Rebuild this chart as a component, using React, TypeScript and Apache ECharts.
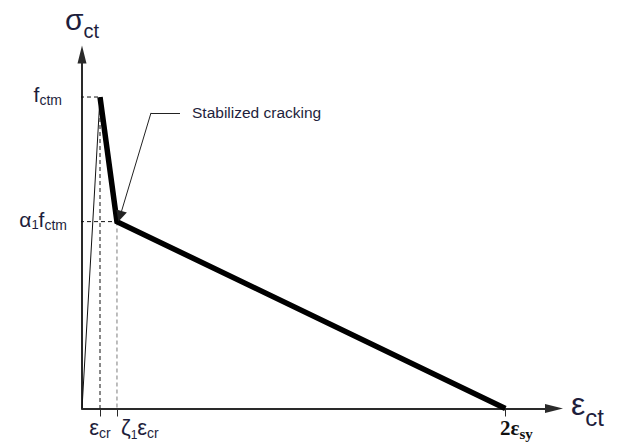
import React, { useEffect, useRef } from "react";
import * as echarts from "echarts";

// Strain positions (in units of the cracking strain εcr)
const epsCr = 1;
const zeta1EpsCr = 1.94;
const twoEpsSy = 23.5;
// Stress levels (in units of fctm)
const fctm = 1;
const alpha1Fctm = 0.6;

// Tension-stiffening diagram
const ascendingBranch: [number, number][] = [
  [0, 0],
  [epsCr, fctm],
];
const softeningBranch: [number, number][] = [
  [epsCr, fctm],
  [zeta1EpsCr, alpha1Fctm],
  [twoEpsSy, 0],
];

// Tick positions and labels (strain axis)
const strainTicks = [epsCr, zeta1EpsCr, twoEpsSy];
const centredStrainTicks = [epsCr, twoEpsSy];
const centredStrainLabels = ["{e|ε}{es|cr}", "{sp2|}{b|2ε}{bs|sy}"];
const leftStrainTicks = [zeta1EpsCr];
const leftStrainLabels = ["{sp1|}{e|ζ}{n|1}{e|ε}{es|cr}"];
// Tick positions and labels (stress axis)
const stressTicks = [fctm, alpha1Fctm];
const stressTickLabels = ["{f|f}{fs|ctm}{pad|}", "{f|α}{fn|1}{f|f}{fs|ctm}"];

// Guide lines start slightly left of the stress axis
const guideStart = -0.5;

// Leader for the "Stabilized cracking" note
const leaderShelf: [number, number][] = [
  [5.44, 0.949],
  [3.83, 0.949],
];
const leaderPointer: [number, number][] = [
  [3.83, 0.949],
  [2.11, 0.617],
];
const noteText = "Stabilized cracking";

const X_MAX = 26.2;
const Y_MAX = 1.1365;

const FONT = "'Liberation Sans', Arial, Helvetica, sans-serif";
const SERIF = "'Liberation Serif', 'Times New Roman', serif";
const INK = "#1e1e3c";
const AXIS = "#2a2a2a";

const pickLabel = (ticks: number[], labels: string[], v: number) => {
  const i = ticks.findIndex((t) => Math.abs(t - v) < 1e-6);
  return i >= 0 ? labels[i] : "";
};

// rich-text token: `h` is the token box height; with top alignment a taller
// box pushes the glyphs further down (used for subscripts)
const tok = (fontSize: number, h: number, extra: Record<string, unknown> = {}) => ({
  fontFamily: FONT,
  fontSize,
  color: INK,
  height: h,
  verticalAlign: "top",
  ...extra,
});

const strainRich = {
  e: tok(22, 24),
  es: tok(14, 35),
  n: tok(12, 39),
  sp1: { width: 4, height: 24 },
  sp2: { width: 22, height: 24 },
  b: tok(21, 24, { fontFamily: SERIF, fontWeight: "bold", color: "#111" }),
  bs: tok(15, 36, { fontFamily: SERIF, fontWeight: "bold", color: "#111" }),
};

export default function App() {
  const ref = useRef<HTMLDivElement>(null);

  useEffect(() => {
    if (!ref.current) return;
    const chart = echarts.init(ref.current, null, { renderer: "svg" });

    const dashed = (pts: [number, number][], color: string, width = 1) => ({
      type: "line",
      data: pts,
      symbol: "none",
      clip: false,
      silent: true,
      lineStyle: { color, width, type: [4, 3] },
      z: 1,
    });

    chart.setOption({
      animation: false,
      backgroundColor: "#ffffff",
      grid: { left: 82, right: 68, top: 54.5, bottom: 35.5 },
      xAxis: [
        {
          type: "value",
          position: "bottom",
          min: 0,
          max: X_MAX,
          splitLine: { show: false },
          axisLine: {
            onZero: false,
            symbol: ["none", "triangle"],
            symbolSize: [9, 18],
            lineStyle: { color: AXIS, width: 2 },
          },
          axisTick: {
            customValues: strainTicks,
            length: 8,
            lineStyle: { color: AXIS, width: 1 },
          },
          axisLabel: {
            customValues: centredStrainTicks,
            margin: 7,
            formatter: (v: number) => pickLabel(centredStrainTicks, centredStrainLabels, v),
            rich: strainRich,
          },
          name: "{m|ε}{s|ct}",
          nameLocation: "end",
          nameGap: 17,
          nameTextStyle: {
            padding: [17, 0, 0, 0],
            rich: {
              m: tok(32, 34),
              s: tok(24, 60),
            },
          },
        },
        {
          type: "value",
          position: "bottom",
          offset: 0,
          min: 0,
          max: X_MAX,
          splitLine: { show: false },
          axisLine: { show: false },
          axisTick: { show: false },
          axisLabel: {
            customValues: leftStrainTicks,
            margin: 7,
            align: "left",
            formatter: (v: number) => pickLabel(leftStrainTicks, leftStrainLabels, v),
            rich: strainRich,
          },
        },
      ],
      yAxis: {
        type: "value",
        min: 0,
        max: Y_MAX,
        splitLine: { show: false },
        axisLine: {
          onZero: false,
          symbol: ["none", "triangle"],
          symbolSize: [9, 18],
          lineStyle: { color: AXIS, width: 2 },
        },
        axisTick: { show: false },
        axisLabel: {
          customValues: stressTicks,
          margin: 15,
          padding: [6, 0, 0, 0],
          formatter: (v: number) => pickLabel(stressTicks, stressTickLabels, v),
          rich: {
            f: tok(21, 24),
            fs: tok(14, 35),
            fn: tok(13, 35),
            pad: { width: 5, height: 24 },
          },
        },
        name: "{m|σ}{s|ct}",
        nameLocation: "end",
        nameGap: -3.6,
        nameTextStyle: {
          align: "center",
          rich: {
            m: tok(30, 32),
            s: tok(20, 55),
          },
        },
      },
      series: [
        dashed([[guideStart, fctm], [epsCr, fctm]], "#111"),
        dashed([[guideStart, alpha1Fctm], [zeta1EpsCr, alpha1Fctm]], "#111"),
        dashed([[epsCr, fctm], [epsCr, 0]], "#111"),
        dashed([[zeta1EpsCr, alpha1Fctm], [zeta1EpsCr, 0]], "#a8a8a8", 1.5),
        {
          type: "line",
          data: ascendingBranch,
          symbol: "none",
          silent: true,
          lineStyle: { color: "#111", width: 1 },
          z: 2,
        },
        {
          type: "line",
          data: softeningBranch,
          symbol: "none",
          silent: true,
          clip: false,
          lineStyle: { color: "#000", width: 5.5, join: "miter" },
          z: 3,
        },
        {
          type: "lines",
          coordinateSystem: "cartesian2d",
          silent: true,
          symbol: "none",
          lineStyle: { color: "#222", width: 1, opacity: 1 },
          data: [{ coords: leaderShelf }],
          z: 4,
        },
        {
          type: "lines",
          coordinateSystem: "cartesian2d",
          silent: true,
          symbol: ["none", "triangle"],
          symbolSize: [6, 11],
          lineStyle: { color: "#222", width: 1, opacity: 1 },
          data: [{ coords: leaderPointer }],
          z: 4,
        },
      ],
      graphic: [
        {
          type: "text",
          left: 192,
          top: 104,
          style: { text: noteText, fontFamily: FONT, fontSize: 15.5, fill: INK },
        },
      ],
    });

    return () => chart.dispose();
  }, []);

  return (
    <div
      ref={ref}
      style={{ position: "absolute", left: 0, top: 0, width: 622, height: 444 }}
    />
  );
}
